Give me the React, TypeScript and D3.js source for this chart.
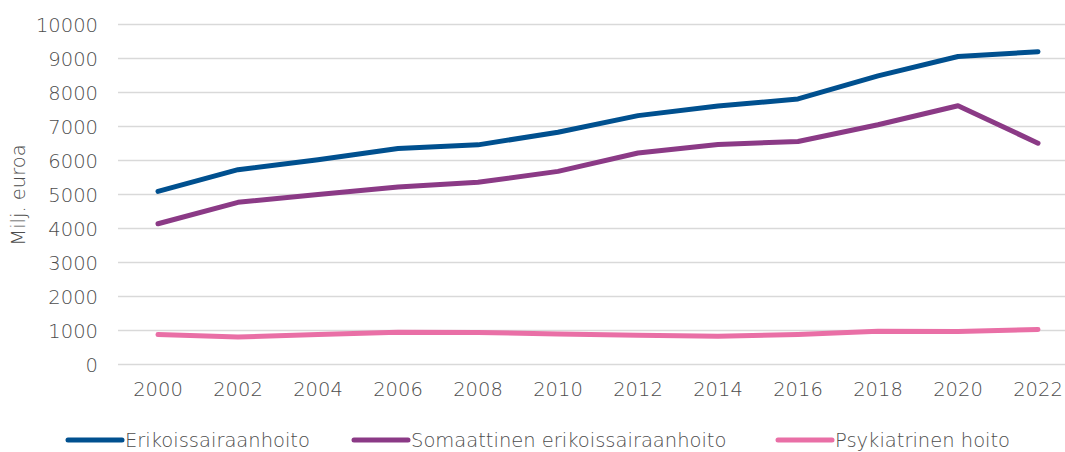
import React from 'react';
import * as d3 from 'd3';

const years = ['2000', '2002', '2004', '2006', '2008', '2010', '2012', '2014', '2016', '2018', '2020', '2022'];
const erikoissairaanhoito = [5090, 5730, 6020, 6350, 6460, 6830, 7320, 7600, 7810, 8490, 9060, 9200];
const somaattinen = [4140, 4770, 5000, 5220, 5360, 5680, 6220, 6470, 6560, 7050, 7610, 6510];
const psykiatrinen = [880, 810, 880, 950, 940, 900, 860, 830, 880, 980, 970, 1030];
const seriesNames = ['Erikoissairaanhoito', 'Somaattinen erikoissairaanhoito', 'Psykiatrinen hoito'];
const yTicks = [0, 1000, 2000, 3000, 4000, 5000, 6000, 7000, 8000, 9000, 10000];

const colors = ['#00508f', '#8b3a86', '#e96fa6'];
const FONT = '"DejaVu Sans", sans-serif';
const TEXT = '#4d4d4d';
const FS = 19.5;

export default function App() {
  const width = 1065;
  const height = 452;
  const left = 118;

  const x = d3.scalePoint<string>().domain(years).range([left, 1078]).padding(0.5);
  const y = d3.scaleLinear().domain([0, 10000]).range([364.5, 24.5]);

  const line = d3
    .line<number>()
    .x((_, i) => x(years[i]) as number)
    .y((d) => y(d));

  const series = [erikoissairaanhoito, somaattinen, psykiatrinen];

  // legend positions
  const legendX = [68, 354, 778];

  return (
    <svg
      width={width}
      height={height}
      style={{ position: 'absolute', left: 0, top: 0, background: '#fff' }}
      fontFamily={FONT}
      fontWeight={300}
    >
      {/* grid */}
      <g>
        {yTicks.map((t) => (
          <line key={t} x1={left} x2={width} y1={y(t)} y2={y(t)} stroke="#d9d9d9" strokeWidth={1.5} />
        ))}
      </g>
      {/* y tick labels */}
      <g fontSize={FS} fill={TEXT} textAnchor="end">
        {yTicks.map((t) => (
          <text key={t} x={98} y={y(t)} dy="0.36em">
            {t}
          </text>
        ))}
      </g>
      <text
        transform={`translate(18,195) rotate(-90)`}
        textAnchor="middle"
        dy="0.36em"
        fontSize={FS}
        fill={TEXT}
      >
        Milj. euroa
      </text>
      {/* x tick labels */}
      <g fontSize={FS} fill={TEXT} textAnchor="middle">
        {years.map((yr) => (
          <text key={yr} x={x(yr)} y={389} dy="0.36em">
            {yr}
          </text>
        ))}
      </g>
      {/* lines */}
      <g fill="none" strokeWidth={5} strokeLinecap="round" strokeLinejoin="round">
        {series.map((s, i) => (
          <path key={i} d={line(s) || ''} stroke={colors[i]} />
        ))}
      </g>
      {/* legend */}
      <g fontSize={FS} fill={TEXT}>
        {seriesNames.map((name, i) => (
          <g key={name} transform={`translate(${legendX[i]},440)`}>
            <line x1={0} x2={54} y1={0} y2={0} stroke={colors[i]} strokeWidth={5} strokeLinecap="round" />
            <text x={57} y={0} dy="0.36em">
              {name}
            </text>
          </g>
        ))}
      </g>
    </svg>
  );
}
